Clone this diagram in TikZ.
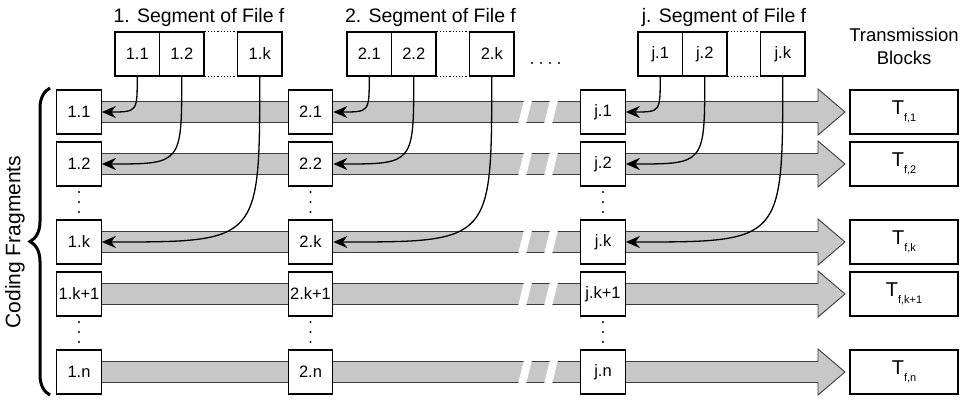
\documentclass[tikz,border=0pt]{standalone}
\usepackage{fontspec}
\setmainfont{Liberation Sans}
\usetikzlibrary{arrows.meta,decorations.pathreplacing,calc}
\definecolor{bandgray}{HTML}{C6C7C6}
\definecolor{bandline}{HTML}{3C3C3C}
\begin{document}
\begin{tikzpicture}[x=1pt,y=-1pt,
  frag/.style={draw=black,line width=1.2pt,fill=white,minimum width=44.5pt,minimum height=44pt,inner sep=0pt,font=\fontsize{16.5}{16.5}\selectfont},
  segbox/.style={frag},
  tblock/.style={draw=black,line width=1.2pt,fill=white,minimum width=108pt,minimum height=44pt,inner sep=0pt,font=\fontsize{20}{20}\selectfont},
  band/.style={fill=bandgray,draw=bandline,line width=0.9pt},
  breakmark/.style={fill=white,draw=none},
  feed/.style={line width=1.3pt,-{Stealth[length=14pt,width=12pt,inset=4.5pt]}},
  titletext/.style={font=\fontsize{19.5}{20}\selectfont},
  dotline/.style={line width=1.2pt,dotted}
]
\useasboundingbox (0,0) rectangle (963,399);

% bands with arrow heads
\foreach \y in {112,164,242,294,372}{
  \draw[band] (79,\y-10.5) -- (818,\y-10.5) -- (818,\y-23) -- (845,\y) -- (818,\y+23) -- (818,\y+10.5) -- (79,\y+10.5) -- cycle;
  \fill[breakmark] (518,\y+12) -- (526,\y+12) -- (532,\y-12) -- (524,\y-12) -- cycle;
  \fill[breakmark] (544,\y+12) -- (552,\y+12) -- (558,\y-12) -- (550,\y-12) -- cycle;
}

% fragment columns
\node[frag] (a1) at (79,112) {1.1};
\node[frag] (a2) at (79,164) {1.2};
\node[frag] (ak) at (79,242) {1.k};
\node[frag] (ak1) at (79,294) {1.k+1};
\node[frag] (an) at (79,372) {1.n};

\node[frag] (b1) at (310.5,112) {2.1};
\node[frag] (b2) at (310.5,164) {2.2};
\node[frag] (bk) at (310.5,242) {2.k};
\node[frag] (bk1) at (310.5,294) {2.k+1};
\node[frag] (bn) at (310.5,372) {2.n};

\node[frag] (c1) at (603,112) {j.1};
\node[frag] (c2) at (603,164) {j.2};
\node[frag] (ck) at (603,242) {j.k};
\node[frag] (ck1) at (603,294) {j.k+1};
\node[frag] (cn) at (603,372) {j.n};

% vertical dots
\foreach \x in {79,310.5,603}{
  \foreach \y in {192,202,212,322,332,342}{
    \fill (\x,\y) circle (1.2);
  }
}

% transmission blocks
\node[tblock] (t1) at (904,112) {T\raisebox{-6.5pt}{\fontsize{11}{11}\selectfont f,1}};
\node[tblock] (t2) at (904,164) {T\raisebox{-6.5pt}{\fontsize{11}{11}\selectfont f,2}};
\node[tblock] (tk) at (904,242) {T\raisebox{-6.5pt}{\fontsize{11}{11}\selectfont f,k}};
\node[tblock] (tk1) at (904,294) {T\raisebox{-6.5pt}{\fontsize{11}{11}\selectfont f,k+1}};
\node[tblock] (tn) at (904,372) {T\raisebox{-6.5pt}{\fontsize{11}{11}\selectfont f,n}};

% segment boxes
\node[segbox] (s1a) at (137.25,54) {1.1};
\node[segbox] (s1b) at (181.75,54) {1.2};
\node[segbox] (s1k) at (259.75,54) {1.k};
\draw[dotline] (s1b.north east) -- (s1k.north west);
\draw[dotline] (s1b.south east) -- (s1k.south west);

\node[segbox] (s2a) at (369.25,54) {2.1};
\node[segbox] (s2b) at (413.75,54) {2.2};
\node[segbox] (s2k) at (491.75,54) {2.k};
\draw[dotline] (s2b.north east) -- (s2k.north west);
\draw[dotline] (s2b.south east) -- (s2k.south west);

\node[segbox] (sja) at (660.25,54) {j.1};
\node[segbox] (sjb) at (704.75,54) {j.2};
\node[segbox] (sjk) at (782.75,54) {j.k};
\draw[dotline] (sjb.north east) -- (sjk.north west);
\draw[dotline] (sjb.south east) -- (sjk.south west);

% ellipsis between segments
\foreach \x in {532,541,550,559}{ \fill (\x,63) circle (1.1); }

% titles
\node[titletext] (h1) at (199,17) {1. Segment of File f};
\node[titletext] (h2) at (430.5,17) {2. Segment of File f};
\node[titletext] (hj) at (724,17) {j. Segment of File f};
\node[align=center,font=\fontsize{18.5}{23}\selectfont] (htb) at (904,46) {Transmission\\Blocks};

% feed arrows
\draw[feed] (s1a.south) .. controls (s1a.south |- a1.east) and (s1a.south |- a1.east) .. (a1.east);
\draw[feed] (s1b.south) .. controls (s1b.south |- a2.east) and (s1b.south |- a2.east) .. (a2.east);
\draw[feed] (s1k.south) .. controls (s1k.south |- ak.east) and (s1k.south |- ak.east) .. (ak.east);

\draw[feed] (s2a.south) .. controls (s2a.south |- b1.east) and (s2a.south |- b1.east) .. (b1.east);
\draw[feed] (s2b.south) .. controls (s2b.south |- b2.east) and (s2b.south |- b2.east) .. (b2.east);
\draw[feed] (s2k.south) .. controls (s2k.south |- bk.east) and (s2k.south |- bk.east) .. (bk.east);

\draw[feed] (sja.south) .. controls (sja.south |- c1.east) and (sja.south |- c1.east) .. (c1.east);
\draw[feed] (sjb.south) .. controls (sjb.south |- c2.east) and (sjb.south |- c2.east) .. (c2.east);
\draw[feed] (sjk.south) .. controls (sjk.south |- ck.east) and (sjk.south |- ck.east) .. (ck.east);

% brace and label
\coordinate (brb) at (50,395);
\coordinate (brt) at (50,88);
\draw[line width=3pt,decorate,decoration={brace,amplitude=20pt}] (brb) -- (brt);
\node[rotate=90,font=\fontsize{21}{21}\selectfont] (cf) at (15,242) {Coding Fragments};
\end{tikzpicture}
\end{document}
